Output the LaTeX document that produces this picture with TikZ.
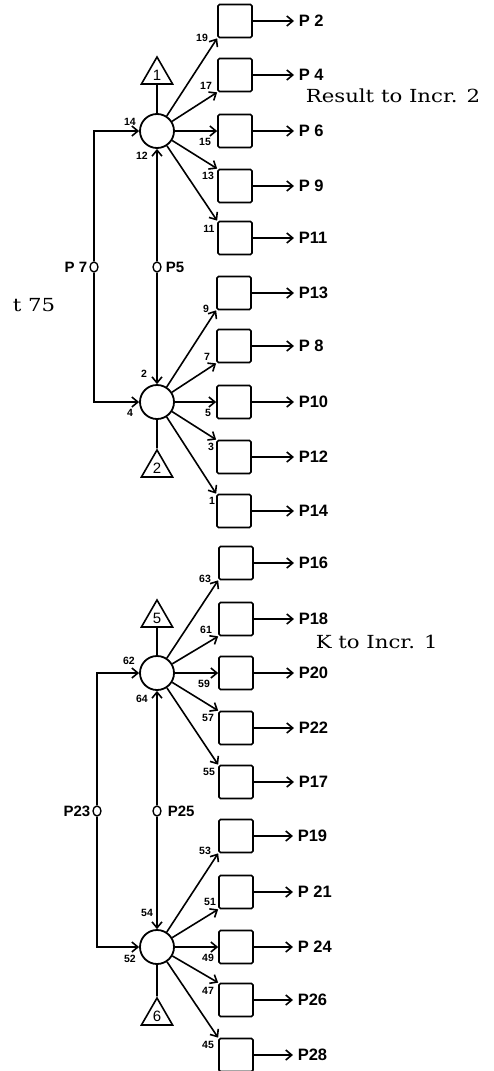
\documentclass[tikz,border=0pt]{standalone}
\usepackage{fontspec}
\setsansfont{Liberation Sans}
\newfontfamily\incrfont[FakeStretch=1.18]{DejaVu Serif}
\usetikzlibrary{arrows.meta,shapes.geometric}
\begin{document}
\begin{tikzpicture}[x=1pt,y=-1pt,line width=1.6pt,
  tip/.style={-{Straight Barb[length=6pt,width=10pt]}},
  hub/.style={circle,draw,line width=1.8pt,minimum size=34pt,inner sep=0pt},
  boxn/.style={rectangle,draw,line width=1.7pt,rounded corners=1.5pt,minimum width=34pt,minimum height=33pt,inner sep=0pt},
  tri/.style={regular polygon,regular polygon sides=3,draw,line width=1.6pt,minimum size=36pt,inner sep=0pt,font=\sffamily\fontsize{15}{15}\selectfont},
  tap/.style={ellipse,draw,fill=white,line width=1.4pt,minimum width=8pt,minimum height=10pt,inner sep=0pt},
  outl/.style={anchor=west,inner xsep=4pt,inner ysep=0pt,font=\sffamily\bfseries\fontsize{16.5}{16}\selectfont},
  plab/.style={inner sep=0pt,font=\sffamily\bfseries\fontsize{15}{15}\selectfont},
  num/.style={inner sep=0pt,font=\sffamily\bfseries\fontsize{10.5}{11}\selectfont},
  incr/.style={anchor=base west,inner sep=0pt,font=\incrfont\fontsize{18}{18}\selectfont}]
\useasboundingbox (0,0) rectangle (494,1071);

% ---------- hubs ----------
\node[hub] (cA) at (157,131) {};
\node[hub] (cB) at (157,402) {};
\node[hub] (cC) at (157,673) {};
\node[hub] (cD) at (157,947) {};

% ---------- triangles ----------
\node[tri] (t1) at (157,75) {1};
\node[tri] (t2) at (157,468) {2};
\node[tri] (t5) at (157,618) {5};
\node[tri] (t6) at (157,1016) {6};
\draw (cA) -- (t1);
\draw (cB) -- (t2);
\draw (cC) -- (t5);
\draw (cD) -- (t6);

% ---------- fan A ----------
\foreach \n/\y/\lab/\num/\nx/\ny/\anc in {
  1/21/{P 2}/19/202/38/south west,
  2/75/{P 4}/17/206/86/south west,
  3/131/{P 6}/15/205/142/west,
  4/186/{P 9}/13/208/176/north west,
  5/238/{P11}/11/209/229/north west}{
  \node[boxn] (b\n) at (235,\y) {};
  \node[outl] (o\n) at (294,\y) {\lab};
  \draw[tip] (b\n) -- (o\n);
  \draw[tip] (cA) -- (b\n.\anc);
  \node[num] (n\n) at (\nx,\ny) {\num};
}
% ---------- fan B ----------
\foreach \n/\y/\lab/\num/\nx/\ny/\anc in {
  6/293/{P13}/9/206/309/south west,
  7/346/{P 8}/7/207/357/south west,
  8/402/{P10}/5/208/413/west,
  9/457/{P12}/3/211/447/north west,
  10/511/{P14}/1/212/501/north west}{
  \node[boxn] (b\n) at (234,\y) {};
  \node[outl] (o\n) at (294,\y) {\lab};
  \draw[tip] (b\n) -- (o\n);
  \draw[tip] (cB) -- (b\n.\anc);
  \node[num] (n\n) at (\nx,\ny) {\num};
}
% ---------- fan C ----------
\foreach \n/\y/\lab/\num/\nx/\ny/\anc in {
  11/563/{P16}/63/205/579/south west,
  12/619/{P18}/61/206/630/south west,
  13/673/{P20}/59/204/684/west,
  14/728/{P22}/57/208/718/north west,
  15/782/{P17}/55/209/772/north west}{
  \node[boxn] (b\n) at (236,\y) {};
  \node[outl] (o\n) at (294,\y) {\lab};
  \draw[tip] (b\n) -- (o\n);
  \draw[tip] (cC) -- (b\n.\anc);
  \node[num] (n\n) at (\nx,\ny) {\num};
}
% ---------- fan D ----------
\foreach \n/\y/\lab/\num/\nx/\ny/\anc in {
  16/836/{P19}/53/205/851/south west,
  17/892/{P 21}/51/210/902/south west,
  18/947/{P 24}/49/208/958/west,
  19/1000/{P26}/47/208/991/north west,
  20/1055/{P28}/45/208/1045/north west}{
  \node[boxn] (b\n) at (236,\y) {};
  \node[outl] (o\n) at (293,\y) {\lab};
  \draw[tip] (b\n) -- (o\n);
  \draw[tip] (cD) -- (b\n.\anc);
  \node[num] (n\n) at (\nx,\ny) {\num};
}

% ---------- vertical links, upper pair ----------
\node[tap] (p5) at (157,267) {};
\node[tap] (p7) at (94,267) {};
\draw[tip] (p5) -- (cA);
\draw[tip] (p5) -- (cB);
\draw[tip] (p7) |- (cA);
\draw[tip] (p7) |- (cB);
\node[plab,anchor=east] (l7) at (88,267) {P 7};
\node[plab,anchor=west] (l5) at (165,267) {P5};

% ---------- vertical links, lower pair ----------
\node[tap] (p25) at (157,811) {};
\node[tap] (p23) at (97,811) {};
\draw[tip] (p25) -- (cC);
\draw[tip] (p25) -- (cD);
\draw[tip] (p23) |- (cC);
\draw[tip] (p23) |- (cD);
\node[plab,anchor=east] (l23) at (91,811) {P23};
\node[plab,anchor=west] (l25) at (167,811) {P25};

% ---------- hub port numbers ----------
\node[num] (k14) at (130,122) {14};
\node[num] (k12) at (142,156) {12};
\node[num] (k2) at (144,374) {2};
\node[num] (k4) at (130,413) {4};
\node[num] (k62) at (129,661) {62};
\node[num] (k64) at (142,699) {64};
\node[num] (k54) at (147,913) {54};
\node[num] (k52) at (130,959) {52};

% ---------- notes ----------
\node[incr] (res) at (305,102) {Result to Incr. 2};
\node[incr] (kto) at (315,648) {K to Incr. 1};
\node[incr] (t75) at (12,311) {t 75};
\end{tikzpicture}
\end{document}
